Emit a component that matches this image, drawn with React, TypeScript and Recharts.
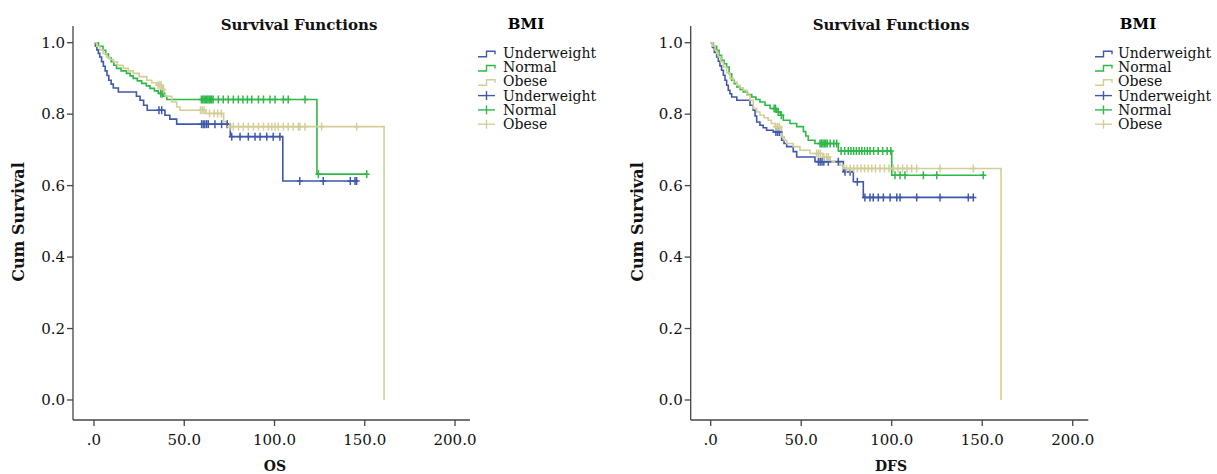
import React from "react";
import { ComposedChart, Line, Scatter, XAxis, YAxis } from "recharts";

type Pt = [number, number];

// OS — Kaplan-Meier steps [time, cum survival] and censored times
const osUnderweight: Pt[] = [
  [0, 1], [0.8, 0.99], [1.6, 0.98], [2.4, 0.97], [3.2, 0.96], [4.2, 0.947], [5.2, 0.934],
  [6.2, 0.921], [7.2, 0.908], [8.2, 0.895], [9.5, 0.884], [10.7, 0.873], [13.5, 0.862],
  [23.5, 0.85], [25.5, 0.839], [27.5, 0.825], [29.5, 0.811], [39.3, 0.797], [42, 0.786],
  [45.8, 0.772], [75.5, 0.737], [104.6, 0.613],
];
const osUnderweightCens = [
  36, 37.5, 59.6, 60.5, 61.4, 62.4, 63.3, 67, 70.7, 73.8, 76.3, 80.9, 85.5, 89.2, 92,
  95.7, 99.3, 103, 114, 127, 142, 144.6, 145.5,
];
const osNormal: Pt[] = [
  [0, 1], [2.5, 0.99], [5, 0.979], [6.5, 0.968], [8, 0.958], [9.5, 0.947], [11, 0.937],
  [12.5, 0.928], [15, 0.921], [18, 0.914], [20, 0.907], [21.7, 0.9], [24, 0.893],
  [26.4, 0.886], [29, 0.879], [31, 0.872], [33.5, 0.865], [35.6, 0.858], [38.5, 0.85],
  [40.3, 0.841], [123.5, 0.632],
];
const osNormalCens = [
  37, 37.8, 59.5, 60.3, 61, 61.7, 62.4, 63.1, 63.8, 64.5, 65.2, 66, 68.9, 71.6, 74.4,
  77.2, 80, 82.5, 85, 87.4, 91.1, 93.9, 97.5, 100.3, 104.9, 107.6, 116.9, 124.3, 151.1,
];
const osObese: Pt[] = [
  [0, 1], [1.5, 0.99], [3.3, 0.98], [5, 0.97], [7, 0.96], [9, 0.953], [10.7, 0.946],
  [13, 0.937], [16.2, 0.928], [19, 0.921], [21.7, 0.914], [25, 0.905], [29.2, 0.895],
  [32, 0.888], [34.7, 0.881], [38, 0.869], [38.8, 0.858], [39.5, 0.85], [43, 0.834],
  [45.8, 0.82], [47.6, 0.811], [62, 0.802], [71.8, 0.779], [73.5, 0.765], [160.7, 0],
];
const osObeseCens = [
  35.5, 36.5, 37.2, 38.5, 59, 60, 61, 64, 66.5, 68.5, 70.5, 75.3, 77.2, 80, 82.7, 85.5,
  88.3, 91.1, 93.9, 96.6, 98.5, 100.3, 102.1, 104.9, 107.6, 110.4, 113.2, 114.1, 116.9,
  126.1, 145.5,
];

// DFS
const dfsUnderweight: Pt[] = [
  [0, 1], [1, 0.987], [2, 0.973], [3.3, 0.96], [4.2, 0.948], [5.1, 0.935], [6, 0.923],
  [7, 0.909], [7.9, 0.895], [8.8, 0.881], [9.7, 0.867], [10.6, 0.857], [11.6, 0.848],
  [14.4, 0.839], [21.7, 0.825], [23.5, 0.811], [24.5, 0.795], [25.4, 0.778], [27.2, 0.769],
  [29, 0.762], [30.9, 0.755], [34.6, 0.75], [39.2, 0.727], [40.5, 0.718], [42, 0.709],
  [45.6, 0.695], [47.5, 0.68], [57.6, 0.667], [73.3, 0.639], [78.8, 0.611], [84.3, 0.567],
];
const dfsUnderweightCens = [
  36, 37, 38, 59.5, 60.5, 61.5, 62.5, 65, 70.5, 74.2, 77, 81, 85.2, 88, 89.8, 92.6, 95.4,
  99.1, 102.8, 104.6, 113.8, 126.7, 142.3, 145.1,
];
const dfsNormal: Pt[] = [
  [0, 1], [1.5, 0.99], [3.3, 0.979], [4.6, 0.965], [6, 0.951], [7.4, 0.941], [8.8, 0.932],
  [10.2, 0.913], [11.6, 0.895], [13, 0.885], [14.4, 0.876], [16.2, 0.869], [18, 0.862],
  [20.3, 0.855], [22.7, 0.848], [25, 0.841], [27.2, 0.834], [30, 0.825], [32.8, 0.816],
  [36.5, 0.806], [38.5, 0.797], [40.1, 0.783], [43.8, 0.774], [47.5, 0.765], [51.2, 0.751],
  [52.5, 0.739], [53.9, 0.727], [57.6, 0.718], [70.5, 0.697], [100, 0.629],
];
const dfsNormalCens = [
  35, 35.8, 37.3, 39, 60.4, 61.2, 62, 62.8, 63.6, 64.4, 66, 68, 69.6, 72, 74, 76, 77.5, 79,
  80.5, 82, 83.5, 85, 86.5, 88, 90, 92.5, 95, 97.5, 99.5, 101.8, 104.6, 107.3, 117.5,
  124.9, 150.6,
];
const dfsObese: Pt[] = [
  [0, 1], [1.2, 0.99], [2.4, 0.979], [3.3, 0.97], [4.2, 0.96], [5.6, 0.946], [7, 0.932],
  [8.8, 0.916], [10.7, 0.9], [12.5, 0.89], [14.4, 0.881], [16.2, 0.874], [18, 0.867],
  [20, 0.853], [21.7, 0.839], [23.5, 0.816], [25.4, 0.806], [27.2, 0.797], [29.5, 0.79],
  [31.8, 0.783], [33.5, 0.774], [35.5, 0.765], [39.2, 0.737], [40.6, 0.727], [42, 0.718],
  [45.6, 0.709], [49.3, 0.699], [54.9, 0.69], [62, 0.68], [66, 0.667], [71.4, 0.657],
  [73.3, 0.648], [160.4, 0],
];
const dfsObeseCens = [
  36, 37, 38, 58.5, 59.5, 60.5, 62.5, 64, 65, 75, 77, 79, 81, 83, 85, 87, 89, 91, 93.5, 96,
  98.5, 101, 103.5, 106, 108.5, 111, 113.8, 126.7, 145.1,
];

const groups = ["Underweight", "Normal", "Obese"];
const colors = ["#3E58AC", "#2EB848", "#D3CE97"];
const xTicks = [0, 50, 100, 150, 200];
const yTicks = [0, 0.2, 0.4, 0.6, 0.8, 1.0];

const FONT = "DejaVu Serif";

function levelAt(steps: Pt[], t: number) {
  let s = steps[0][1];
  for (const [st, sv] of steps) {
    if (st <= t) s = sv;
    else break;
  }
  return s;
}

function lineData(steps: Pt[], cens: number[]) {
  const pts = steps.map(([t, s]) => ({ t, s }));
  const last = steps[steps.length - 1];
  const end = Math.max(...cens);
  if (end > last[0]) pts.push({ t: end, s: last[1] });
  return pts;
}

function censData(steps: Pt[], cens: number[]) {
  return cens.map((t) => ({ t, s: levelAt(steps, t) }));
}

const Plus = (color: string) => (p: any) => (
  <g stroke={color} strokeWidth={1.5}>
    <line x1={p.cx} x2={p.cx} y1={p.cy - 4} y2={p.cy + 4} />
    <line x1={p.cx - 3} x2={p.cx + 3} y1={p.cy} y2={p.cy} />
  </g>
);

function Panel(props: {
  width: number;
  axisWidth: number;
  right: number;
  xDomain: [number, number];
  series: { steps: Pt[]; cens: number[] }[];
}) {
  const { width, axisWidth, right, xDomain, series } = props;
  const tickStyle = { fill: "#111", fontSize: 15, fontFamily: FONT };
  return (
    <ComposedChart
      width={width}
      height={474}
      margin={{ top: 26, right, bottom: 24, left: 0 }}
    >
      <XAxis
        type="number"
        dataKey="t"
        domain={xDomain}
        allowDataOverflow
        ticks={xTicks}
        tickFormatter={(v: number) => (v === 0 ? ".0" : v.toFixed(1))}
        height={30}
        tickSize={6}
        tickMargin={8}
        stroke="#444"
        strokeWidth={1.3}
        tick={tickStyle}
      />
      <YAxis
        type="number"
        dataKey="s"
        domain={[-0.056, 1.0467]}
        allowDataOverflow
        ticks={yTicks}
        tickFormatter={(v: number) => v.toFixed(1)}
        width={axisWidth}
        tickSize={6}
        tickMargin={2}
        stroke="#444"
        strokeWidth={1.3}
        tick={tickStyle}
      />
      {series.map((s, i) => (
        <Line
          key={"l" + i}
          data={lineData(s.steps, s.cens)}
          dataKey="s"
          type="stepAfter"
          stroke={colors[i]}
          strokeWidth={1.6}
          dot={false}
          activeDot={false}
          isAnimationActive={false}
        />
      ))}
      {series.map((s, i) => (
        <Scatter
          key={"c" + i}
          data={censData(s.steps, s.cens)}
          dataKey="s"
          shape={Plus(colors[i])}
          isAnimationActive={false}
        />
      ))}
    </ComposedChart>
  );
}

function Legend({ iconX, textX, titleX }: { iconX: number; textX: number; titleX: number }) {
  const rows = [...groups, ...groups];
  return (
    <g>
      <text x={titleX} y={29} textAnchor="middle" fontWeight="bold" fontSize={15} fontFamily={FONT}>
        BMI
      </text>
      {rows.map((g, i) => {
        const cy = 52.7 + i * 14.3;
        const c = colors[i % 3];
        return (
          <g key={i}>
            {i < 3 ? (
              <path
                d={`M${iconX},${cy + 4} H${iconX + 8.5} V${cy - 1.5} H${iconX + 17} V${cy + 1.5}`}
                fill="none"
                stroke={c}
                strokeWidth={1.4}
              />
            ) : (
              <g stroke={c} strokeWidth={1.4}>
                <line x1={iconX} x2={iconX + 17} y1={cy} y2={cy} />
                <line x1={iconX + 8.5} x2={iconX + 8.5} y1={cy - 4.5} y2={cy + 4.5} />
              </g>
            )}
            <text x={textX} y={cy + 5} fontSize={14} fontFamily={FONT} fill="#111">
              {g}
            </text>
          </g>
        );
      })}
    </g>
  );
}

export default function App() {
  const os = [
    { steps: osUnderweight, cens: osUnderweightCens },
    { steps: osNormal, cens: osNormalCens },
    { steps: osObese, cens: osObeseCens },
  ];
  const dfs = [
    { steps: dfsUnderweight, cens: dfsUnderweightCens },
    { steps: dfsNormal, cens: dfsNormalCens },
    { steps: dfsObese, cens: dfsObeseCens },
  ];
  const bold = { fontWeight: "bold" as const, fontSize: 15, fontFamily: FONT, fill: "#111" };
  return (
    <div style={{ position: "absolute", left: 0, top: 0, width: 1217, height: 474, background: "#fff" }}>
      <div style={{ position: "absolute", left: 0, top: 0 }}>
        <Panel width={620} axisWidth={73} right={150} xDomain={[-11.63, 208.3]} series={os} />
      </div>
      <div style={{ position: "absolute", left: 620, top: 0 }}>
        <Panel width={597} axisWidth={70.7} right={128.7} xDomain={[-11.05, 208.6]} series={dfs} />
      </div>
      <svg
        width={1217}
        height={474}
        style={{ position: "absolute", left: 0, top: 0, pointerEvents: "none" }}
      >
        <text x={299} y={30} textAnchor="middle" {...bold}>Survival Functions</text>
        <text x={891} y={30} textAnchor="middle" {...bold}>Survival Functions</text>
        <text transform="translate(18,222) rotate(-90)" textAnchor="middle" dominantBaseline="central" {...bold} fontSize={16}>
          Cum Survival
        </text>
        <text transform="translate(637,222) rotate(-90)" textAnchor="middle" dominantBaseline="central" {...bold} fontSize={16}>
          Cum Survival
        </text>
        <text x={275} y={471} textAnchor="middle" {...bold} fontSize={14}>OS</text>
        <text x={891} y={471} textAnchor="middle" {...bold} fontSize={14}>DFS</text>
        <Legend iconX={478} textX={503} titleX={526} />
        <Legend iconX={1095} textX={1118} titleX={1138} />
      </svg>
    </div>
  );
}
